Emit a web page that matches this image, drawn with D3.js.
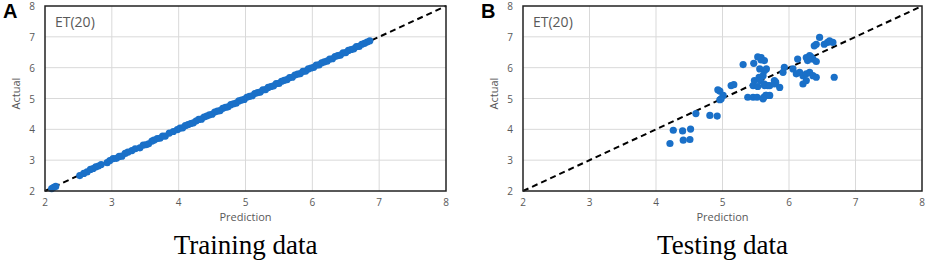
<!DOCTYPE html>
<html>
<head>
<meta charset="utf-8">
<script src="https://cdn.jsdelivr.net/npm/d3@7"></script>
<style>
  body { margin: 0; background: #fff; }
  .grid line { stroke: #d9d9d9; stroke-width: 1; }
  .tick-label { font-family: "Open Sans", "Liberation Sans", sans-serif; font-size: 10px; fill: #595959; }
  .axis-title { font-family: "Open Sans", "Liberation Sans", sans-serif; font-size: 11px; fill: #595959; }
</style>
</head>
<body>
<svg id="chart" width="927" height="263"></svg>
<script>
// axis ticks (same for both panels)
const ticks = [2, 3, 4, 5, 6, 7, 8];

// panel A: training predictions vs actual
const trainPred = [2.10, 2.13, 2.16, 2.52, 2.58, 2.63, 2.68, 2.72, 2.76, 2.80, 2.84, 2.93, 2.97, 3.02, 3.07, 3.11, 3.15, 3.20, 3.24, 3.30, 3.35, 3.42, 3.47, 3.51, 3.55, 3.60, 3.63, 3.68, 3.72, 3.76, 3.80, 3.86, 3.92, 3.98, 4.02, 4.06, 4.10, 4.14, 4.18, 4.22, 4.26, 4.30, 4.34, 4.38, 4.42, 4.46, 4.50, 4.54, 4.58, 4.62, 4.66, 4.70, 4.74, 4.78, 4.82, 4.86, 4.90, 4.94, 4.98, 5.02, 5.06, 5.10, 5.14, 5.18, 5.22, 5.26, 5.30, 5.34, 5.38, 5.42, 5.46, 5.50, 5.54, 5.58, 5.62, 5.66, 5.70, 5.74, 5.78, 5.82, 5.86, 5.90, 5.94, 5.98, 6.02, 6.06, 6.10, 6.14, 6.18, 6.22, 6.26, 6.30, 6.34, 6.38, 6.42, 6.46, 6.50, 6.54, 6.58, 6.62, 6.66, 6.70, 6.74, 6.78, 6.82, 6.86];
const trainActual = [2.08, 2.12, 2.15, 2.50, 2.57, 2.62, 2.70, 2.73, 2.78, 2.81, 2.86, 2.92, 2.99, 3.05, 3.06, 3.12, 3.13, 3.22, 3.26, 3.31, 3.37, 3.40, 3.49, 3.50, 3.53, 3.62, 3.65, 3.70, 3.71, 3.78, 3.78, 3.88, 3.93, 3.99, 4.04, 4.05, 4.12, 4.15, 4.19, 4.21, 4.27, 4.32, 4.33, 4.40, 4.43, 4.47, 4.49, 4.56, 4.59, 4.61, 4.68, 4.71, 4.73, 4.80, 4.83, 4.85, 4.92, 4.95, 4.97, 5.04, 5.07, 5.09, 5.16, 5.19, 5.21, 5.28, 5.29, 5.36, 5.39, 5.41, 5.48, 5.49, 5.56, 5.59, 5.61, 5.68, 5.69, 5.76, 5.79, 5.81, 5.88, 5.89, 5.96, 5.99, 6.01, 6.08, 6.09, 6.16, 6.19, 6.21, 6.28, 6.29, 6.36, 6.39, 6.41, 6.48, 6.49, 6.56, 6.59, 6.61, 6.68, 6.69, 6.76, 6.79, 6.83, 6.87];

// panel B: testing predictions vs actual
const testPred = [5.53, 5.58, 5.31, 5.47, 5.56, 5.63, 5.55, 5.48, 5.57, 5.46, 5.53, 5.63, 5.68, 5.80, 5.38, 5.46, 5.52, 5.62, 5.65, 5.13, 5.17, 4.93, 4.96, 5.01, 4.98, 4.96, 4.60, 4.81, 4.92, 4.26, 4.40, 4.52, 4.41, 4.51, 4.21, 6.46, 6.38, 6.41, 6.53, 6.58, 6.66, 6.61, 6.26, 6.31, 6.28, 6.36, 6.41, 6.33, 6.13, 5.93, 5.91, 6.06, 6.11, 6.16, 6.21, 6.26, 6.31, 6.36, 6.41, 6.68, 6.21, 6.26, 5.58, 5.63, 5.66, 5.61, 5.63, 5.71, 5.66, 5.61, 5.71, 5.78, 5.86, 5.78];
const testActual = [6.35, 6.25, 6.10, 6.14, 5.96, 5.90, 5.69, 5.58, 5.58, 5.42, 5.39, 5.47, 5.42, 5.53, 5.04, 5.04, 5.04, 5.04, 5.10, 5.42, 5.45, 5.28, 5.24, 5.10, 4.99, 4.96, 4.51, 4.45, 4.43, 3.97, 3.95, 4.01, 3.65, 3.67, 3.54, 6.98, 6.71, 6.76, 6.76, 6.82, 6.82, 6.87, 6.33, 6.39, 6.23, 6.28, 6.20, 6.35, 6.28, 6.01, 5.85, 5.96, 5.80, 5.85, 5.74, 5.80, 5.85, 5.74, 5.69, 5.69, 5.47, 5.58, 6.33, 6.23, 5.96, 5.74, 5.42, 5.42, 5.10, 4.99, 5.10, 5.58, 5.36, 5.47];

const panels = [
  { letter: "A", title: "Training data", pred: trainPred, actual: trainActual, left: 45, right: 446 },
  { letter: "B", title: "Testing data", pred: testPred, actual: testActual, left: 523, right: 922 }
];

const svg = d3.select("#chart");
const plotTop = 6, plotBottom = 191;
const blue = "#1a70c8";

panels.forEach(p => {
  const x = d3.scaleLinear().domain([2, 8]).range([p.left, p.right]);
  const y = d3.scaleLinear().domain([2, 8]).range([plotBottom, plotTop]);
  const g = svg.append("g");

  // gridlines
  const grid = g.append("g").attr("class", "grid");
  grid.selectAll(".gx").data(ticks.slice(1, -1)).enter().append("line")
    .attr("x1", d => x(d)).attr("x2", d => x(d))
    .attr("y1", plotTop).attr("y2", plotBottom);
  grid.selectAll(".gy").data(ticks.slice(1, -1)).enter().append("line")
    .attr("x1", p.left).attr("x2", p.right)
    .attr("y1", d => y(d)).attr("y2", d => y(d));

  // tick labels
  g.selectAll(".xl").data(ticks).enter().append("text")
    .attr("class", "tick-label")
    .attr("x", d => x(d)).attr("y", plotBottom + 15)
    .attr("text-anchor", "middle").text(d => d);
  g.selectAll(".yl").data(ticks).enter().append("text")
    .attr("class", "tick-label")
    .attr("x", p.left - 10).attr("y", d => y(d) + 4)
    .attr("text-anchor", "end").text(d => d);

  // 1:1 line
  g.append("line")
    .attr("x1", x(2)).attr("y1", y(2))
    .attr("x2", x(8)).attr("y2", y(8))
    .attr("stroke", "#000").attr("stroke-width", 2)
    .attr("stroke-dasharray", "6,4");

  // points
  g.selectAll(".pt").data(p.pred).enter().append("circle")
    .attr("cx", d => x(d))
    .attr("cy", (d, i) => y(p.actual[i]))
    .attr("r", 3.6)
    .attr("fill", blue);

  // plot frame
  g.append("rect")
    .attr("x", p.left).attr("y", plotTop)
    .attr("width", p.right - p.left).attr("height", plotBottom - plotTop)
    .attr("fill", "none").attr("stroke", "#222").attr("stroke-width", 1.5);

  // label inside plot
  g.append("text")
    .attr("x", p.left + 10).attr("y", plotTop + 21)
    .attr("font-family", "Open Sans, Liberation Sans, sans-serif")
    .attr("font-size", 14).attr("fill", "#595959")
    .text("ET(20)");

  // axis titles
  g.append("text").attr("class", "axis-title")
    .attr("x", (p.left + p.right) / 2).attr("y", plotBottom + 30)
    .attr("text-anchor", "middle").text("Prediction");
  g.append("text").attr("class", "axis-title")
    .attr("transform", `translate(${p.left - 25}, ${(plotTop + plotBottom) / 2 - 5}) rotate(-90)`)
    .attr("text-anchor", "middle").text("Actual");

  // panel letter
  g.append("text")
    .attr("x", p.left - 42).attr("y", 18)
    .attr("font-family", "Liberation Sans, Arial, sans-serif")
    .attr("font-weight", "bold").attr("font-size", 20)
    .text(p.letter);

  // caption below
  g.append("text")
    .attr("x", (p.left + p.right) / 2).attr("y", 254)
    .attr("text-anchor", "middle")
    .attr("font-family", "Liberation Serif, Times New Roman, serif")
    .attr("font-size", 27)
    .text(p.title);
});
</script>
</body>
</html>
